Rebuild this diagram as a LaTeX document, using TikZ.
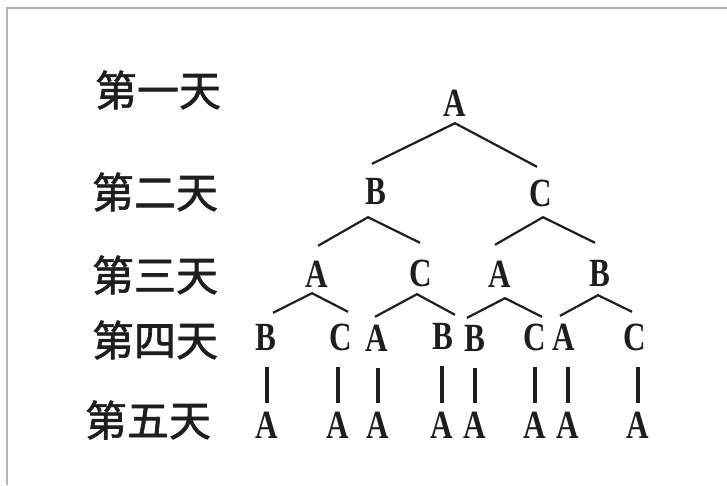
\documentclass[tikz,border=0pt]{standalone}
\usepackage{fontspec}
\newfontfamily\cjk[FakeBold=1.6]{Noto Sans CJK SC}
\newfontfamily\lat[FakeStretch=0.78]{Liberation Serif}
\definecolor{ink}{HTML}{1E1E1E}
\definecolor{framegray}{HTML}{B4B4B4}
\begin{document}
\begin{tikzpicture}[x=1pt,y=-1pt,
  day/.style={font=\cjk\fontsize{42}{42}\selectfont, text=ink, inner sep=0pt},
  let/.style={font=\lat\bfseries\fontsize{40}{40}\selectfont, text=ink, inner sep=0pt, text height=26pt, text depth=0pt},
  br/.style={draw=ink, line width=2.2pt},
  bar/.style={draw=ink, line width=3.2pt}]
\useasboundingbox (0,0) rectangle (727,485);
\draw[framegray, line width=2pt] (7,485) -- (7,7.5) -- (727,7.5);
% day labels
\node[day] (d1) at (158,90) {第一天};
\node[day] (d2) at (155,192) {第二天};
\node[day] (d3) at (155,275) {第三天};
\node[day] (d4) at (155,340) {第四天};
\node[day] (d5) at (148,420) {第五天};
% level 1
\node[let] (a) at (455,103) {A};
% level 2
\node[let] (b) at (376,191) {B};
\node[let] (c) at (541,193) {C};
% level 3
\node[let] (ba) at (317,274) {A};
\node[let] (bc) at (421,273) {C};
\node[let] (ca) at (500,274) {A};
\node[let] (cb) at (600,273) {B};
% level 4
\node[let] (bab) at (266,337) {B};
\node[let] (bac) at (341,337) {C};
\node[let] (bca) at (377,338) {A};
\node[let] (bcb) at (443,336) {B};
\node[let] (cab) at (475,338) {B};
\node[let] (cac) at (535,337) {C};
\node[let] (cba) at (564,337) {A};
\node[let] (cbc) at (635,337) {C};
% level 5
\node[let] (e1) at (267,425) {A};
\node[let] (e2) at (338,425) {A};
\node[let] (e3) at (378,425) {A};
\node[let] (e4) at (442,425) {A};
\node[let] (e5) at (475,425) {A};
\node[let] (e6) at (535,425) {A};
\node[let] (e7) at (568,425) {A};
\node[let] (e8) at (638,425) {A};
% branches level 1 -> 2
\draw[br] ([xshift=-4pt,yshift=14pt]b.north) -- ([yshift=-7pt]a.south) -- ([xshift=-4pt,yshift=13pt]c.north);
% level 2 -> 3
\draw[br] ([xshift=1pt,yshift=15pt]ba.north) -- ([xshift=-8pt,yshift=-13pt]b.south) -- ([xshift=-1pt,yshift=17pt]bc.north);
\draw[br] ([xshift=-5pt,yshift=16pt]ca.north) -- ([xshift=2pt,yshift=-11pt]c.south) -- ([xshift=-5pt,yshift=17pt]cb.north);
% level 3 -> 4
\draw[br] ([xshift=7pt,yshift=11pt]bab.north) -- ([xshift=-5pt,yshift=-6pt]ba.south) -- ([xshift=7pt,yshift=12pt]bac.north);
\draw[br] ([xshift=-2pt,yshift=8pt]bca.north) -- ([xshift=-4pt,yshift=-8pt]bc.south) -- ([xshift=12pt,yshift=8pt]bcb.north);
\draw[br] ([xshift=-8pt,yshift=7pt]cab.north) -- ([xshift=5pt,yshift=-11pt]ca.south) -- ([xshift=7pt,yshift=7pt]cac.north);
\draw[br] ([xshift=-4pt,yshift=8pt]cba.north) -- ([xshift=-2pt,yshift=-9pt]cb.south) -- ([xshift=-3pt,yshift=12pt]cbc.north);
% bars level 4 -> 5
\foreach \u/\e in {bab/e1,bac/e2,bca/e3,bcb/e4,cab/e5,cac/e6,cba/e7,cbc/e8}{
  \draw[bar, shorten <=17pt, shorten >=9pt] (\e.north |- \u.south) -- (\e.north);
}
\end{tikzpicture}
\end{document}
